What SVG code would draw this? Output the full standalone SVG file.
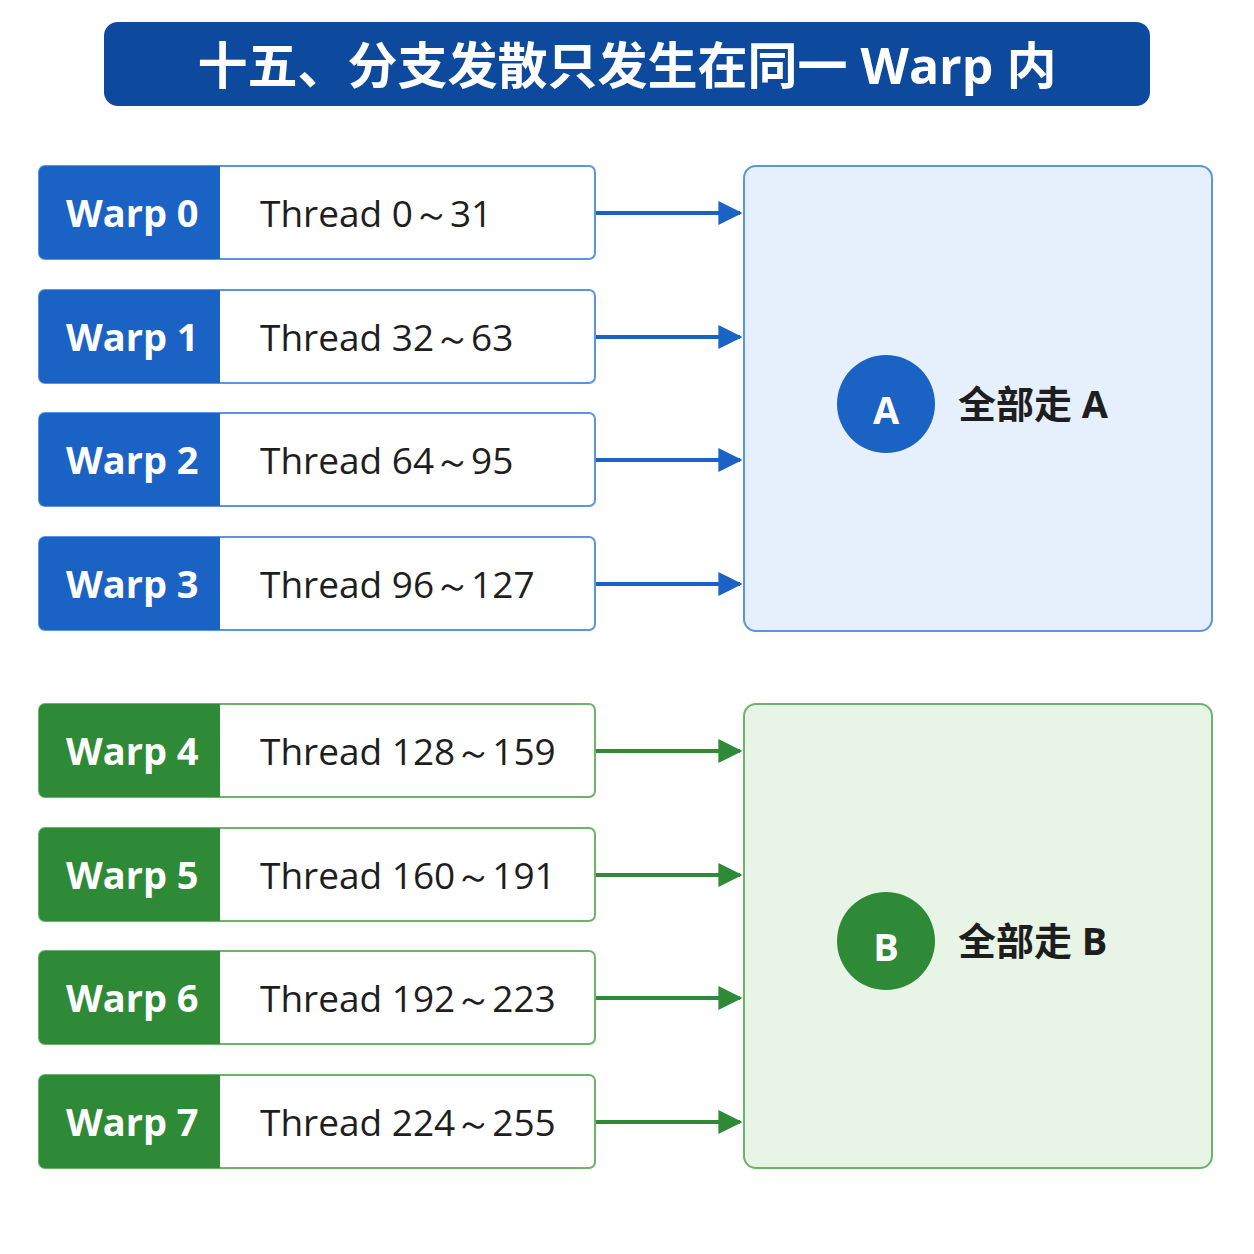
<svg xmlns="http://www.w3.org/2000/svg" width="1254" height="1254" viewBox="0 0 1254 1254">
<style>
.wl{font-family:"Open Sans","Noto Sans",sans-serif;font-weight:700;font-size:38px;fill:#fff}
.th{font-family:"Open Sans","Noto Sans",sans-serif;font-size:37px;fill:#1e1e1e}
.cn{font-family:"Open Sans","Noto Sans CJK SC",sans-serif;font-size:38px;font-weight:700;fill:#1e1e1e}
.bw{fill:#fff;stroke:#5b95e0;stroke-width:2}
.gw{fill:#fff;stroke:#6cb46a;stroke-width:2}
.bl{fill:#1a62c4}.gl{fill:#2e8a36}
.ba{stroke:#1a62c4;stroke-width:4;fill:none;marker-end:url(#mb)}
.ga{stroke:#2e8a36;stroke-width:4;fill:none;marker-end:url(#mg)}
</style>
<defs>
<marker id="mb" viewBox="0 0 10 10" refX="9" refY="5" markerWidth="6" markerHeight="6" markerUnits="strokeWidth" orient="auto"><path d="M0,0L10,5L0,10z" fill="#1a62c4"/></marker>
<marker id="mg" viewBox="0 0 10 10" refX="9" refY="5" markerWidth="6" markerHeight="6" markerUnits="strokeWidth" orient="auto"><path d="M0,0L10,5L0,10z" fill="#2e8a36"/></marker>
</defs>
<rect width="1254" height="1254" fill="#fff"/>
<g id="title"><rect x="104" y="22" width="1046" height="84" rx="14" fill="#0d4a9e"/>
<text x="627" y="84" text-anchor="middle" font-family="'Open Sans','Noto Sans CJK SC',sans-serif" font-size="50" font-weight="700" fill="#fff">十五、分支发散只发生在同一 Warp 内</text></g>
<g id="w0"><rect x="39" y="166" width="556" height="93" rx="6" class="bw"/><path d="M45,166H220V259H45a6,6 0 0 1-6-6V172a6,6 0 0 1 6-6z" class="bl"/><text x="66" y="227" class="wl">Warp 0</text><text x="260" y="227" class="th">Thread 0～31</text></g>
<g id="w1"><rect x="39" y="290" width="556" height="93" rx="6" class="bw"/><path d="M45,290H220V383H45a6,6 0 0 1-6-6V296a6,6 0 0 1 6-6z" class="bl"/><text x="66" y="351" class="wl">Warp 1</text><text x="260" y="351" class="th">Thread 32～63</text></g>
<g id="w2"><rect x="39" y="413" width="556" height="93" rx="6" class="bw"/><path d="M45,413H220V506H45a6,6 0 0 1-6-6V419a6,6 0 0 1 6-6z" class="bl"/><text x="66" y="474" class="wl">Warp 2</text><text x="260" y="474" class="th">Thread 64～95</text></g>
<g id="w3"><rect x="39" y="537" width="556" height="93" rx="6" class="bw"/><path d="M45,537H220V630H45a6,6 0 0 1-6-6V543a6,6 0 0 1 6-6z" class="bl"/><text x="66" y="598" class="wl">Warp 3</text><text x="260" y="598" class="th">Thread 96～127</text></g>
<g id="w4"><rect x="39" y="704" width="556" height="93" rx="6" class="gw"/><path d="M45,704H220V797H45a6,6 0 0 1-6-6V710a6,6 0 0 1 6-6z" class="gl"/><text x="66" y="765" class="wl">Warp 4</text><text x="260" y="765" class="th">Thread 128～159</text></g>
<g id="w5"><rect x="39" y="828" width="556" height="93" rx="6" class="gw"/><path d="M45,828H220V921H45a6,6 0 0 1-6-6V834a6,6 0 0 1 6-6z" class="gl"/><text x="66" y="889" class="wl">Warp 5</text><text x="260" y="889" class="th">Thread 160～191</text></g>
<g id="w6"><rect x="39" y="951" width="556" height="93" rx="6" class="gw"/><path d="M45,951H220V1044H45a6,6 0 0 1-6-6V957a6,6 0 0 1 6-6z" class="gl"/><text x="66" y="1012" class="wl">Warp 6</text><text x="260" y="1012" class="th">Thread 192～223</text></g>
<g id="w7"><rect x="39" y="1075" width="556" height="93" rx="6" class="gw"/><path d="M45,1075H220V1168H45a6,6 0 0 1-6-6V1081a6,6 0 0 1 6-6z" class="gl"/><text x="66" y="1136" class="wl">Warp 7</text><text x="260" y="1136" class="th">Thread 224～255</text></g>
<g id="A"><rect x="744" y="166" width="468" height="465" rx="12" fill="#e6f0fc" stroke="#5b95e0" stroke-width="2"/><circle cx="886" cy="404" r="49" fill="#1a62c4"/><text x="886" y="424" text-anchor="middle" class="wl" font-size="54">A</text><text x="958" y="418" class="cn">全部走 A</text></g>
<g id="B"><rect x="744" y="704" width="468" height="464" rx="12" fill="#e8f4e6" stroke="#6cb46a" stroke-width="2"/><circle cx="886" cy="941" r="49" fill="#2e8a36"/><text x="886" y="961" text-anchor="middle" class="wl" font-size="54">B</text><text x="958" y="955" class="cn">全部走 B</text></g>
<g id="connectors">
<path d="M596,213H740" class="ba"/><path d="M596,337H740" class="ba"/><path d="M596,460H740" class="ba"/><path d="M596,584H740" class="ba"/>
<path d="M596,751H740" class="ga"/><path d="M596,875H740" class="ga"/><path d="M596,998H740" class="ga"/><path d="M596,1122H740" class="ga"/>
</g>
</svg>
